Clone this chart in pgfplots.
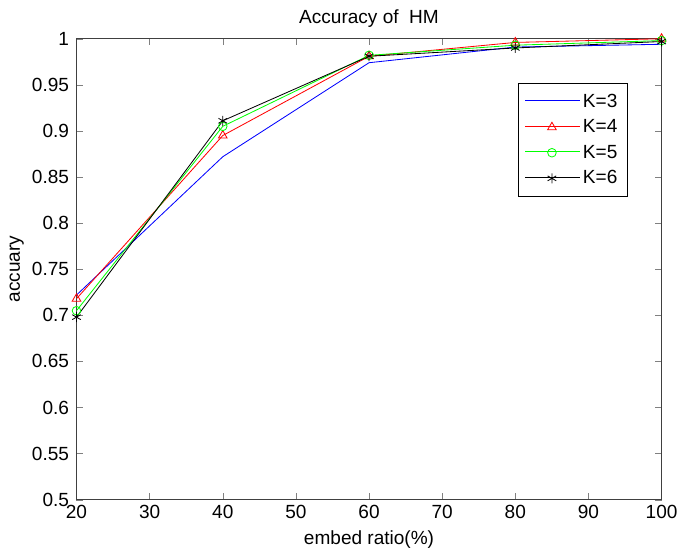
\documentclass[border=0pt]{standalone}
\usepackage{pgfplots}
\pgfplotsset{compat=1.18}
\usepackage{fontspec}
\setmainfont{Liberation Sans}
\newcommand{\lbl}{\fontsize{11.5}{13}\selectfont}
% legend line as a coloured rule, marker on top
\pgfplotsset{
    leg/.style={legend image code/.code={%
        \node[inner sep=0pt, anchor=west] at (0cm,0cm) {\textcolor{#1}{\rule[-0.25pt]{1.16cm}{0.5pt}}};
        \path[##1] plot coordinates {(0.58cm,0cm)};}},
}
\begin{document}
\begin{tikzpicture}
\begin{axis}[
    name=ax,
    scale only axis,
    width=353.4pt,
    height=278.4pt,
    xmin=20, xmax=100,
    ymin=0.5, ymax=1,
    xtick={20,30,...,100},
    ytick={0.5,0.55,...,1.01},
    tick align=inside,
    xtick pos=both, ytick pos=both,
    major tick length=4pt,
    /pgf/number format/assume math mode=true,
    yticklabel style={/pgf/number format/precision=2, xshift=-1pt},
    tick label style={font=\lbl},
    title={Accuracy of \ HM},
    title style={font=\lbl, at={(0.5,1)}, yshift=-2.5pt},
    xlabel={embed ratio(\%)},
    ylabel={accuary},
    label style={font=\lbl},
    ylabel style={yshift=-2pt},
    axis line style={black!75},
    legend style={at={(0.942,0.903)}, anchor=north east, font=\lbl,
        row sep=2pt, inner sep=4pt},
    legend cell align=left,
    every axis plot/.append style={line width=0.5pt},
]
\addplot[color=blue, mark=none, leg=blue] coordinates {
(20,0.722) (40,0.872) (60,0.974) (80,0.991) (100,0.994)
};
\addlegendentry{K=3}
\addplot[color=red, mark=triangle, mark size=3pt, leg=red] coordinates {
(20,0.718) (40,0.895) (60,0.981) (80,0.996) (100,1.000)
};
\addlegendentry{K=4}
\addplot[color=green, mark=o, mark size=2.6pt, leg=green] coordinates {
(20,0.705) (40,0.905) (60,0.982) (80,0.993) (100,0.998)
};
\addlegendentry{K=5}
\addplot[color=black, mark=asterisk, mark size=3pt, leg=black] coordinates {
(20,0.698) (40,0.911) (60,0.981) (80,0.990) (100,0.997)
};
\addlegendentry{K=6}
\end{axis}
\path ([xshift=-46.2pt,yshift=-28.8pt]ax.south west) rectangle ([xshift=10.2pt,yshift=23.4pt]ax.north east);
\end{tikzpicture}
\end{document}
